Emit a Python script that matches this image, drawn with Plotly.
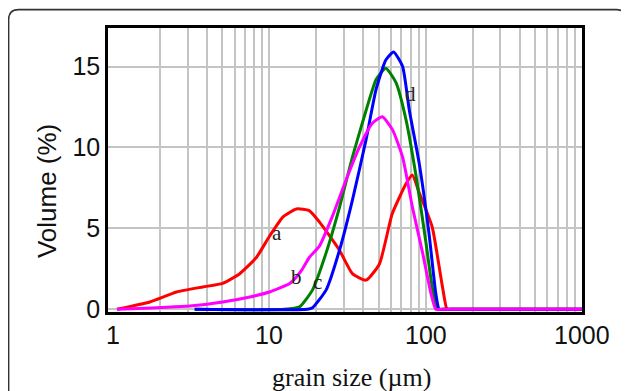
import math
import plotly.graph_objects as go

# ---------------- data ----------------
a_x = [1.06, 1.72, 2.55, 3.75, 5.03, 6.46, 8.26, 10.0, 12.2, 14.9, 18.0, 20.9, 28.1, 34.0, 41.6,
       50.6, 61.1, 75.3, 82.1, 91.0, 110, 128, 137, 145, 1000]
a_y = [0, 0.45, 1.07, 1.38, 1.6, 2.2, 3.2, 4.5, 5.7, 6.2, 6.1, 5.4, 3.65, 2.2, 1.8,
       2.8, 5.9, 7.8, 8.3, 7.2, 5.1, 1.4, 0, 0, 0]

b_x = [1.06, 3.1, 5.03, 7.5, 10.0, 13.5, 14.9, 16.3, 18.0, 20.9, 25.2, 31.0, 37.6, 45.6,
       52.8, 61.3, 71.2, 82.3, 95.5, 108, 116, 124, 1000]
b_y = [0, 0.2, 0.45, 0.76, 1.07, 1.6, 2.0, 2.5, 3.2, 3.9, 5.7, 8.0, 10.0, 11.5,
       11.9, 11.1, 9.4, 6.3, 3.5, 1.0, 0, 0, 0]

c_x = [3.33, 12.5, 15.6, 18.9, 23.1, 28.1, 34.0, 41.6, 48.2, 55.6, 64.6, 74.9, 86.9,
       100.5, 110, 119, 127, 1000]
c_y = [0, 0, 0.15, 1.2, 3.5, 6.3, 9.4, 12.3, 14.2, 14.9, 14.0, 11.7, 8.2,
       4.1, 1.4, 0, 0, 0]

d_x = [3.33, 17.5, 18.9, 23.1, 28.1, 34.0, 41.6, 48.2, 55.6, 62.3, 71.2, 78.6, 91.0, 105,
       116, 122, 130, 1000]
d_y = [0, 0, 0.1, 1.2, 3.65, 6.75, 10.5, 13.6, 15.4, 15.9, 15.0, 12.3, 9.0, 4.7,
       1.0, 0, 0, 0]

series_names = ["a", "b", "c", "d"]
series_colors = ["#ff0000", "#ff00ff", "#008000", "#0000ff"]

x_tick_vals = [1, 10, 100, 1000]
x_tick_text = ["1", "10", "100", "1000"]
y_tick_vals = [0, 5, 10, 15]
y_tick_text = ["0", "5", "10", "15"]
minor_grid = [m * 10 ** e for e in range(0, 3) for m in range(2, 10)] + [10, 100]

x_title = "grain size (\u00b5m)"
y_title = "Volume (%)"

# curve label positions (x value, y value)
label_x = [11.2, 14.9, 20.3, 79.5]
label_y = [4.7, 2.0, 1.7, 13.3]

# ---------------- figure ----------------
OFF = 8                      # page body margin
W, H = 629 - OFF, 391 - OFF
L, T = 108 - OFF, 28.3 - OFF
R = W - (582.5 - OFF)
B = H - (311.7 - OFF)
pw, ph = W - L - R, H - T - B

def px(x):   # screen x -> paper
    return (x - OFF - L) / pw

def py(y):   # screen y -> paper
    return (H - B - (y - OFF)) / ph

fig = go.Figure()
traces = [(a_x, a_y, 0), (c_x, c_y, 2), (d_x, d_y, 3), (b_x, b_y, 1)]
for xs, ys, i in traces:
    fig.add_trace(go.Scatter(x=xs, y=ys, mode="lines", name=series_names[i],
                             line=dict(color=series_colors[i], width=3,
                                       shape="spline", smoothing=0.5),
                             showlegend=False))

serif = "Liberation Serif, Times New Roman, serif"
sans = "Liberation Sans, Arial, sans-serif"

for name, lx, ly in zip(series_names, label_x, label_y):
    fig.add_annotation(x=math.log10(lx), y=ly, xref="x", yref="y",
                       text=name, showarrow=False,
                       font=dict(family=serif, size=21, color="#222"))

# x tick labels
for v, t in zip(x_tick_vals, x_tick_text):
    fig.add_annotation(x=math.log10(v), y=py(335), xref="x", yref="paper",
                       text=t, showarrow=False, xanchor="center", yanchor="middle",
                       font=dict(family=sans, size=25, color="#111"))

# axis titles
fig.add_annotation(x=px(352), y=py(377), xref="paper", yref="paper", text=x_title,
                   showarrow=False, xanchor="center", yanchor="middle",
                   font=dict(family=serif, size=26, color="#111"))
fig.add_annotation(x=px(47), y=py(191), xref="paper", yref="paper", text=y_title,
                   showarrow=False, xanchor="center", yanchor="middle", textangle=-90,
                   font=dict(family=sans, size=26, color="#111"))

# outer rounded frame
x0, y0, x1, y1, r = 8.5, 10, 627, 430, 10
def P(a, b):
    return f"{px(a):.5f},{py(b):.5f}"
path = (f"M {P(x0, y1)} L {P(x0, y0 + r)} Q {P(x0, y0)} {P(x0 + r, y0)} "
        f"L {P(x1 - r, y0)} Q {P(x1, y0)} {P(x1, y0 + r)} L {P(x1, y1)}")
fig.add_shape(type="path", path=path, xref="paper", yref="paper",
              line=dict(color="#333", width=1.6), layer="above")

fig.update_layout(
    width=W, height=H,
    margin=dict(l=L, r=R, t=T, b=B, autoexpand=False),
    paper_bgcolor="white", plot_bgcolor="white",
    font=dict(family=sans, color="#111"),
    xaxis=dict(
        type="log", range=[-0.032, 3.0], automargin=False,
        showticklabels=False,
        showgrid=False, zeroline=False,
        showline=True, linecolor="black", linewidth=2.5, mirror=True,
        ticks="",
        minor=dict(tickvals=minor_grid, showgrid=True, gridcolor="#c4c4c4",
                   gridwidth=2, ticks=""),
    ),
    yaxis=dict(
        range=[-0.167, 17.38], automargin=False,
        tickvals=y_tick_vals, ticktext=y_tick_text,
        tickfont=dict(size=25),
        showgrid=True, gridcolor="#c4c4c4", gridwidth=2, zeroline=False,
        showline=True, linecolor="black", linewidth=2.5, mirror=True,
        ticks="", ticklabelstandoff=0,
    ),
)

fig.write_html("out.html")
